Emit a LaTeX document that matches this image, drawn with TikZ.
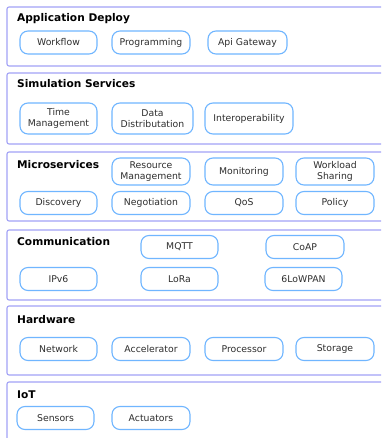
\documentclass[tikz,border=0pt]{standalone}
\usepackage{fontspec}
\setmainfont{DejaVu Sans}
\definecolor{layerline}{RGB}{162,162,246}
\definecolor{pillline}{RGB}{112,182,255}
\tikzset{
  layer/.style={draw=layerline, line width=1.1pt, rounded corners=2pt},
  layertitle/.style={anchor=west, inner sep=0pt, font=\bfseries\fontsize{10.6}{12}\selectfont},
  pill/.style={draw=pillline, line width=1.1pt, rounded corners=8pt, align=center,
    inner sep=0pt, font=\fontsize{9.3}{11.6}\selectfont, text=black!82},
}
\newcommand{\pillat}[6]{% name, cx, cy, w, h, text
  \node[pill, minimum width=#4pt, minimum height=#5pt] (#1) at (#2,#3) {#6};}
\begin{document}
\begin{tikzpicture}[x=1pt, y=-1pt]
\useasboundingbox (0,0) rectangle (381,438);
\clip (0,0) rectangle (381,438);
\fill[white] (0,0) rectangle (381,438);

% layer frames
\draw[layer] (7,7) rectangle (395,66);
\draw[layer] (7,73) rectangle (395,144);
\draw[layer] (7,152) rectangle (395,221);
\draw[layer] (7,230) rectangle (395,300);
\draw[layer] (7,306) rectangle (395,375);
\draw[layer] (7,382) rectangle (395,450);

% layer titles
\node[layertitle] (tapp) at (17,19) {Application Deploy};
\node[layertitle] (tsim) at (17,84) {Simulation Services};
\node[layertitle] (tmic) at (17,165) {Microservices};
\node[layertitle] (tcom) at (17,242) {Communication};
\node[layertitle] (thw) at (17,320) {Hardware};
\node[layertitle] (tiot) at (17,395) {IoT};

% Application Deploy
\pillat{workflow}{58.5}{42.5}{77}{23}{Workflow}
\pillat{programming}{151}{42.5}{78}{23}{Programming}
\pillat{apigw}{247.5}{42.5}{79}{23}{Api Gateway}

% Simulation Services
\pillat{timemgmt}{58.5}{118.5}{77}{31}{Time\\Management}
\pillat{datadist}{152.5}{118.5}{81}{31}{Data\\Distributation}
\pillat{interop}{249}{118.5}{88}{31}{Interoperability}

% Microservices
\pillat{resmgmt}{151}{171.5}{78}{27}{Resource\\Management}
\pillat{monitoring}{244}{171.5}{78}{27}{Monitoring}
\pillat{workload}{335}{171.5}{78}{27}{Workload\\Sharing}
\pillat{discovery}{58.5}{203}{77}{23}{Discovery}
\pillat{negotiation}{151}{203}{78}{23}{Negotiation}
\pillat{qos}{244}{203}{78}{23}{QoS}
\pillat{policy}{335}{203}{78}{23}{Policy}

% Communication
\pillat{mqtt}{179.5}{247}{77}{23}{MQTT}
\pillat{coap}{305}{247}{78}{23}{CoAP}
\pillat{ipv6}{58.5}{279}{77}{23}{IPv6}
\pillat{lora}{179.5}{279}{77}{23}{LoRa}
\pillat{sixlowpan}{303.5}{279}{77}{23}{6LoWPAN}

% Hardware
\pillat{network}{58.5}{349}{77}{23}{Network}
\pillat{accel}{151}{349}{78}{23}{Accelerator}
\pillat{processor}{244}{349}{78}{23}{Processor}
\pillat{storage}{335}{349}{78}{23}{Storage}

% IoT
\pillat{sensors}{55.5}{418}{77}{23}{Sensors}
\pillat{actuators}{151}{418}{78}{23}{Actuators}
\end{tikzpicture}
\end{document}
